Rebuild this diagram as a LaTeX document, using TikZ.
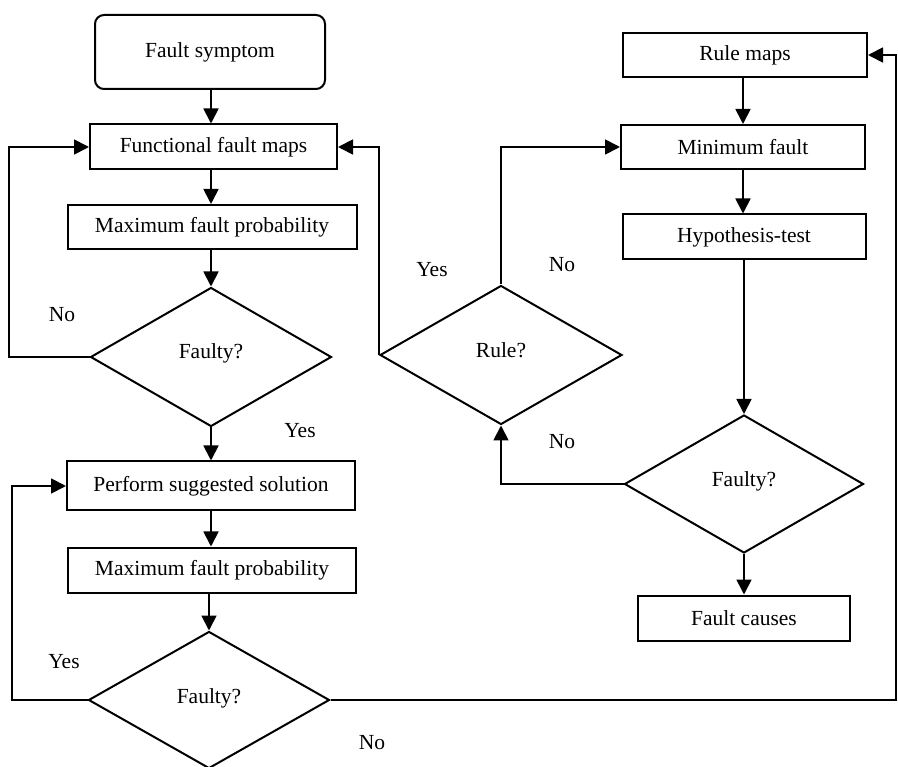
\documentclass[tikz,border=0pt]{standalone}
\usepackage{fontspec}
\setmainfont{Liberation Serif}
\usetikzlibrary{shapes.geometric,arrows.meta}
\begin{document}
\begin{tikzpicture}[x=1pt,y=-1pt,
  every node/.style={font=\fontsize{21.5}{25}\selectfont},
  box/.style={draw,line width=2pt,inner sep=0pt},
  dia/.style={draw,line width=2pt,diamond,inner sep=0pt,aspect=1.73},
  conn/.style={line width=1.8pt},
  arr/.style={conn,-{Triangle[length=15pt,width=15pt]}},
  lbl/.style={inner sep=0pt}]
\useasboundingbox (0,0) rectangle (898,767);
\fill[white] (0,0) rectangle (898,767);
% left column
\node[box,rounded corners=9pt,minimum width=230pt,minimum height=74pt] (fs) at (210,52) {Fault symptom};
\node[box,minimum width=247pt,minimum height=45pt] (ffm) at (213.5,147) {Functional fault maps};
\node[box,minimum width=289pt,minimum height=44pt] (mfp1) at (212,227) {Maximum fault probability};
\node[dia,minimum width=241pt,minimum height=139pt,text depth=12pt] (f1) at (211,357) {Faulty?};
\node[box,minimum width=288pt,minimum height=49pt] (pss) at (211,486) {Perform suggested solution};
\node[box,minimum width=288pt,minimum height=45pt] (mfp2) at (212,570) {Maximum fault probability};
\node[dia,minimum width=241pt,minimum height=137pt,text depth=8pt] (f2) at (209,700) {Faulty?};
% right column
\node[box,minimum width=244pt,minimum height=44pt] (rm) at (745,55) {Rule maps};
\node[box,minimum width=244pt,minimum height=44pt] (mf) at (743,147) {Minimum fault};
\node[box,minimum width=243pt,minimum height=45pt] (ht) at (744,237) {Hypothesis-test};
\node[dia,minimum width=239pt,minimum height=138pt,text depth=10pt] (f3) at (744,484) {Faulty?};
\node[box,minimum width=212pt,minimum height=45pt] (fc) at (744,618) {Fault causes};
\node[dia,minimum width=242pt,minimum height=139pt,text depth=10pt] (r) at (501,355) {Rule?};
% connectors
\draw[arr] (fs.south -| 211,0) -- (ffm.north -| 211,0);
\draw[arr] (ffm.south -| 211,0) -- (mfp1.north -| 211,0);
\draw[arr] (mfp1.south -| f1.north) -- (f1.north);
\draw[arr] (f1.south) -- (pss.north -| f1.south);
\draw[arr] (pss.south -| 211,0) -- (mfp2.north -| 211,0);
\draw[arr] (mfp2.south -| f2.north) -- (f2.north);
\draw[arr] (f1.west) -- (9,357) |- (ffm.west);
\draw[arr] (f2.west) -- (12,700) |- (pss.west);
\draw[arr] (f2.east) -- (896,700) |- (rm.east);
\draw[arr] (rm.south -| 743,0) -- (mf.north -| 743,0);
\draw[arr] (mf.south -| 743,0) -- (ht.north -| 743,0);
\draw[arr] (ht.south -| f3.north) -- (f3.north);
\draw[arr] (f3.south) -- (fc.north -| f3.south);
\draw[arr] (f3.west) -| (r.south);
\draw[arr] (r.west) |- (ffm.east);
\draw[arr] (r.north) |- (mf.west);
% labels
\node[lbl] (l1) at (62,315) {No};
\node[lbl] (l2) at (300,431) {Yes};
\node[lbl] (l3) at (64,662) {Yes};
\node[lbl] (l4) at (372,743) {No};
\node[lbl] (l5) at (432,270) {Yes};
\node[lbl] (l6) at (562,265) {No};
\node[lbl] (l7) at (562,442) {No};
\end{tikzpicture}
\end{document}
